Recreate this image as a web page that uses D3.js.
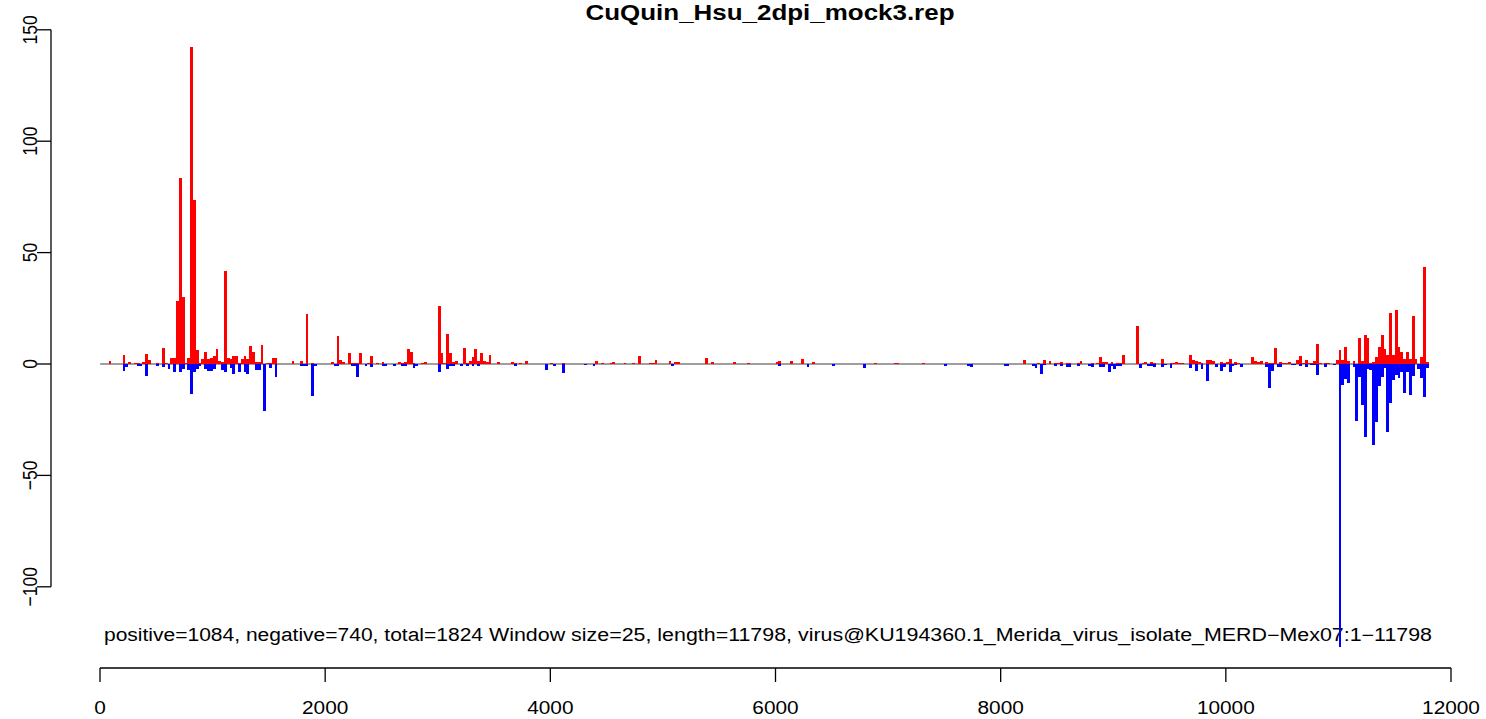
<!DOCTYPE html>
<html><head><meta charset="utf-8">
<script src="https://cdn.jsdelivr.net/npm/d3@7"></script>
<style>html,body{margin:0;padding:0;background:#fff;} svg{display:block;}</style>
</head><body>
<svg id="chart" width="1486" height="719"></svg>
<script>
const title = "CuQuin_Hsu_2dpi_mock3.rep";
const windowSize = 25;
const genomeLength = 11798;
const xTicks = [0, 2000, 4000, 6000, 8000, 10000, 12000];
const yTicks = [-100, -50, 0, 50, 100, 150];
const infoLeft = "positive=1084, negative=740, total=1824";
const infoRight = "Window size=25, length=11798, virus@KU194360.1_Merida_virus_isolate_MERD\u2212Mex07:1\u221211798";

// [window index, value]
const positive = [
[3,1.3],[8,4],[10,1],[12,0.5],[13,0.5],[15,1],[16,4.5],[17,1.8],[20,0.5],[22,7.2],[23,0.5],[25,2.7],[26,2.7],[27,28.3],[28,83.5],[29,30],[30,0.5],[31,2.7],[32,142.3],[33,73.6],[34,6.3],[35,0.5],[36,2.2],[37,5.4],[38,2.2],[39,2.7],[40,3.6],[41,6.7],[42,1.3],[43,0.9],[44,41.7],[45,2.7],[46,2.2],[47,3.6],[48,3.6],[49,0.5],[50,2.2],[51,3.6],[52,2.2],[53,8],[54,5.4],[55,0.9],[56,0.9],[57,8.5],[59,0.5],[60,0.5],[61,2.7],[62,2.7],[68,1.3],[71,1.3],[73,22.4],[75,0.5],
[82,0.9],[84,12.6],[85,1.8],[86,0.9],[88,4.9],[89,0.45],[90,0.45],[91,0.45],[92,4.9],[95,0.45],[96,3.6],[98,0.45],[100,0.9],[106,0.9],[107,0.45],[108,0.9],[109,6.7],[110,5.4],[111,0.45],[114,0.45],[115,0.9],[120,26],[121,4.9],[122,0.3],[123,13.5],[124,4.9],[125,0.9],[126,1.3],[129,7.2],[130,0.45],[131,1.3],[132,3.1],[133,6.7],[134,1.3],[135,4.9],[136,1.3],[137,0.9],[138,4],[141,0.9],[146,0.9],[147,0.45],[149,0.45],[151,1.3],[160,0.45],[164,0.45],
[176,1.3],[178,0.45],[181,0.45],[182,0.9],[186,0.45],[189,0.45],[191,3.6],[195,0.45],[196,0.45],[197,1.8],[202,1.3],[204,0.9],[205,0.9],[215,2.7],[217,0.9],[225,0.9],[230,0.45],[240,0.9],[241,1.3],[245,1.3],[249,2.2],[253,0.9],[275,0.45],[282,0.45],[283,0.45],[292,0.45],[328,1.8],
[333,0.45],[335,1.8],[337,1.3],[339,0.45],[340,0.45],[341,0.9],[343,0.45],[344,0.45],[347,0.45],[348,1.3],[352,0.45],[354,0.45],[355,3.1],[356,0.9],[357,0.9],[359,0.9],[361,0.45],[362,0.45],[363,4],[368,17],[370,0.45],[371,0.9],[373,0.9],[374,0.45],[377,2.2],[380,0.45],[381,0.45],[382,0.9],[383,0.45],[384,0.45],[387,4],[388,1.8],[389,1.3],[390,0.9],[391,0.45],[393,1.8],[394,1.8],[395,1.3],[398,0.9],[399,0.45],[400,0.9],[401,2.2],[403,0.9],[404,0.45],
[409,3.1],[410,1.3],[411,0.9],[412,1.3],[414,0.9],[415,0.45],[416,0.45],[417,7.2],[419,0.9],[420,0.45],[421,0.45],[422,0.9],[425,1.8],[426,3.6],[427,0.45],[428,1.8],[429,0.45],[430,0.45],[431,1.3],[432,9],[433,0.45],[435,0.45],[436,0.45],[439,1.8],[440,6.3],[441,1.8],[442,7.6],[443,1.3],[445,1.3],[447,11.7],[448,1.3],[449,13],[450,11.7],[451,0.45],[452,0.9],[453,3.1],[454,7.6],[455,13],[456,6.7],[457,4],[458,22.9],[459,4],[460,24.2],[461,7.6],[462,5.4],[463,2.2],[464,5.4],[465,2.2],[466,21.5],[467,2.2],[469,3.1],[470,43.5],[471,0.9]
];

const negative = [
[8,-3.1],[9,-1.3],[13,-0.9],[14,-0.9],[16,-5.4],[20,-0.9],[22,-1.3],[24,-2.2],[26,-3.6],[28,-3.6],[29,-2.2],[31,-2.7],[32,-13.5],[33,-3.6],[34,-2.2],[35,-0.9],[37,-2.2],[38,-3.1],[39,-3.1],[40,-2.2],[43,-2.7],[44,-3.6],[46,-1.8],[47,-4.5],[49,-3.6],[51,-3.6],[52,-4.5],[55,-2.7],[56,-2.7],[58,-21],[60,-1.8],[62,-5.8],[71,-0.9],[72,-0.9],[73,-0.9],[75,-14.4],[76,-0.9],
[83,-0.9],[84,-0.9],[89,-0.9],[90,-0.9],[91,-5.8],[94,-0.9],[96,-1.3],[100,-0.9],[101,-0.9],[104,-0.9],[107,-0.9],[108,-0.9],[111,-1.8],[112,-0.9],[120,-3.6],[123,-2.2],[124,-0.9],[125,-0.9],[128,-0.9],[130,-0.9],[132,-0.9],[134,-0.9],[147,-0.9],[158,-2.7],[161,-0.9],[164,-4],
[172,-0.45],[175,-0.9],[203,-0.9],[241,-0.9],[251,-1.3],[260,-0.9],[271,-1.8],[300,-0.9],[308,-0.9],[309,-1.3],[321,-0.9],[322,-0.9],
[331,-0.9],[332,-1.8],[334,-4.5],[335,-0.45],[339,-0.9],[341,-0.9],[343,-1.3],[344,-1.3],[347,-0.9],[351,-0.9],[352,-1.3],[355,-1.3],[356,-1.3],[358,-3.6],[359,-0.9],[360,-2.2],[361,-0.9],[362,-0.9],[369,-1.8],[372,-0.9],[373,-0.9],[374,-1.3],[377,-1.3],[378,-0.45],[380,-1.8],[387,-1.8],[389,-3.1],[391,-2.2],[393,-7.6],[396,-1.3],[398,-3.1],[399,-1.3],[401,-3.6],[402,-0.9],[403,-0.45],[405,-1.3],
[414,-1.3],[415,-10.8],[416,-3.1],[418,-1.3],[419,-1.3],[423,-0.45],[424,-0.45],[426,-0.9],[428,-1.3],[430,-0.45],[431,-0.45],[432,-4.9],[435,-1.3],[438,-0.45],[440,-127],[441,-9.4],[442,-6.7],[443,-8.5],[445,-1.3],[446,-25.6],[447,-5.8],[448,-18.4],[449,-32.8],[450,-2.2],[451,-2.7],[452,-36.4],[453,-26],[454,-9.9],[455,-5.8],[456,-2],[457,-30.5],[458,-17.5],[459,-7.2],[460,-4.9],[461,-6.3],[462,-3.6],[463,-13],[464,-3.6],[465,-13.9],[466,-5.4],[468,-2.2],[469,-6.3],[470,-14.8],[471,-1.8]
];

const svg = d3.select("#chart");
const FONT = "'Liberation Sans', Arial, Helvetica, sans-serif";
const SX = 1.19; // horizontal stretch of the original rendering

const x = d3.scaleLinear().domain([0, 12000]).range([100, 1451]);
const y = d3.scaleLinear().domain([-100, 150]).range([586.8, 29.8]);

function stretchedText(px, py, txt, opts) {
  const g = svg.append("g").attr("transform", `translate(${px},${py}) scale(${SX},1)` + (opts.rotate ? ` rotate(${opts.rotate})` : ""));
  const t = g.append("text")
    .attr("x", 0).attr("y", 0)
    .attr("text-anchor", opts.anchor || "start")
    .attr("font-family", FONT)
    .attr("font-size", opts.size)
    .attr("font-weight", opts.weight || "normal")
    .attr("fill", "#000")
    .text(txt);
  if (opts.width) t.attr("textLength", opts.width / SX).attr("lengthAdjust", "spacingAndGlyphs");
}

// Title
stretchedText(770, 19.5, title, {anchor: "middle", size: 21.8, weight: "bold"});

// Info text
stretchedText(104, 641, infoLeft, {anchor: "start", size: 17.6, width: 379});
stretchedText(489, 641, infoRight, {anchor: "start", size: 17.6, width: 943});

// baseline
svg.append("line")
  .attr("x1", x(1)).attr("x2", x(genomeLength))
  .attr("y1", y(0)).attr("y2", y(0))
  .attr("stroke", "#7f7f7f").attr("stroke-width", 1.6);

const bw = x(windowSize) - x(0);
const bars = svg.append("g").attr("shape-rendering", "crispEdges");
bars.selectAll("rect.pos").data(positive).join("rect")
  .attr("class", "pos")
  .attr("x", d => x(d[0] * windowSize + 1))
  .attr("width", bw)
  .attr("y", d => y(d[1]))
  .attr("height", d => y(0) - y(d[1]))
  .attr("fill", "#ff0000");
bars.selectAll("rect.neg").data(negative).join("rect")
  .attr("class", "neg")
  .attr("x", d => x(d[0] * windowSize + 1))
  .attr("width", bw)
  .attr("y", y(0))
  .attr("height", d => y(d[1]) - y(0))
  .attr("fill", "#0000ff");

// X axis
const axisY = 668;
const ax = svg.append("g").attr("stroke", "#000").attr("stroke-width", 1.3).attr("fill", "none");
ax.append("line").attr("x1", x(xTicks[0])).attr("x2", x(xTicks[xTicks.length - 1])).attr("y1", axisY).attr("y2", axisY);
xTicks.forEach(t => {
  ax.append("line").attr("x1", x(t)).attr("x2", x(t)).attr("y1", axisY).attr("y2", axisY + 14);
  stretchedText(x(t), 714, String(t), {anchor: "middle", size: 17.5});
});

// Y axis
const axisX = 51;
ax.append("line").attr("x1", axisX).attr("x2", axisX).attr("y1", y(yTicks[0])).attr("y2", y(yTicks[yTicks.length - 1]));
yTicks.forEach(t => {
  ax.append("line").attr("x1", axisX).attr("x2", axisX - 14).attr("y1", y(t)).attr("y2", y(t));
  stretchedText(36.5, y(t), String(t).replace("-", "\u2212"), {anchor: "middle", size: 17.5, rotate: -90});
});
</script>
</body></html>
